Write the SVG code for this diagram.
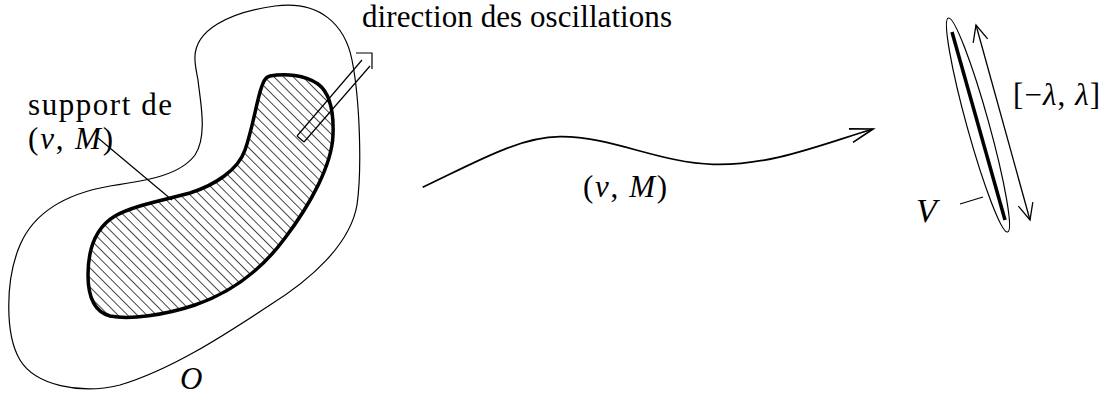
<svg xmlns="http://www.w3.org/2000/svg" width="1107" height="397" viewBox="0 0 1107 397">
<style>
.thin{fill:none;stroke:#000;stroke-width:1.2}
.mid{fill:none;stroke:#000;stroke-width:1.7}
.thick{fill:none;stroke:#000;stroke-width:3.5}
text{font-family:"Liberation Serif","Times New Roman",serif;font-size:31px;fill:#000}
.it{font-style:italic}
</style>
<defs>
<pattern id="hatch" patternUnits="userSpaceOnUse" width="6.8" height="6.8" patternTransform="rotate(45)">
<line x1="0" y1="3.4" x2="6.8" y2="3.4" stroke="#444" stroke-width="1"/>
</pattern>
<marker id="headBig" markerUnits="userSpaceOnUse" markerWidth="30" markerHeight="20" viewBox="-26 -10 30 20" refX="0" refY="0" orient="auto-start-reverse" overflow="visible">
<path d="M-23,-7 L0,0 L-23,7" fill="none" stroke="#000" stroke-width="1.7"/>
</marker>
<marker id="headSmall" markerUnits="userSpaceOnUse" markerWidth="24" markerHeight="20" viewBox="-20 -10 24 20" refX="0" refY="0" orient="auto-start-reverse" overflow="visible">
<path d="M-16.5,-7.5 L0,0 L-16.5,7.5" fill="none" stroke="#000" stroke-width="1.3"/>
</marker>
</defs>

<g id="region-O">
<path class="thin" d="M195,60 C193,30 230,12 275,6 C320,0 345,25 352,60 C360,100 362,170 357,205 C350,245 310,280 270,305 C220,338 170,370 120,385 C80,395 35,385 20,360 C5,335 5,280 20,245 C35,210 70,193 110,186 C150,180 180,175 195,155 C208,135 200,100 198,80 C196,70 195,65 195,60 Z"/>
<text x="180" y="389" class="it">O</text>
</g>

<g id="support">
<path d="M270,76 C285,73 305,75 318,84 C330,93 334,110 333,135 C332,165 310,205 285,238 C260,272 230,293 195,305 C165,315 130,320 110,316 C95,312 88,297 88,275 C88,250 95,228 115,216 C135,205 165,200 190,193 C215,185 238,170 245,150 C252,130 255,110 260,92 C263,82 265,77 270,76 Z" fill="url(#hatch)" stroke="#000" stroke-width="3.5"/>
</g>

<g id="label-support">
<text x="28" y="115" textLength="144">support de</text>
<text x="28" y="149" textLength="85">(<tspan class="it">v</tspan>, <tspan class="it">M</tspan>)</text>
</g>

<g id="direction">
<path class="thin" d="M297,136 L362,60 M304,142 L370,66 M297,136 L304,142 M356,53 L372,53 L372,69"/>
<text x="362" y="27" textLength="310">direction des oscillations</text>
</g>

<g id="target-V">
<ellipse class="thin" cx="978" cy="125" rx="11" ry="111" transform="rotate(-15.5 978 125)"/>
<line class="thick" x1="952" y1="32" x2="1005" y2="220"/>
<text x="916" y="222" class="it" style="font-size:34px">V</text>
</g>

<g id="label-lambda">
<text x="1013" y="105" textLength="87">[−<tspan class="it">λ</tspan>, <tspan class="it">λ</tspan>]</text>
</g>

<g id="label-vM">
<text x="583" y="197" textLength="84">(<tspan class="it">v</tspan>, <tspan class="it">M</tspan>)</text>
</g>

<g id="connectors">
<line class="thin" x1="98" y1="138" x2="172" y2="200"/>
<line class="thin" x1="960" y1="204" x2="983" y2="197"/>
<path class="mid" d="M422.7,187.3 C480,160 520,137 560,136.7 C610,136 660,163 713,164.3 C770,166 820,145 873,129" marker-end="url(#headBig)"/>
<line x1="976" y1="25" x2="1030" y2="220" stroke="#000" stroke-width="1.3" marker-start="url(#headSmall)" marker-end="url(#headSmall)"/>
</g>
</svg>
